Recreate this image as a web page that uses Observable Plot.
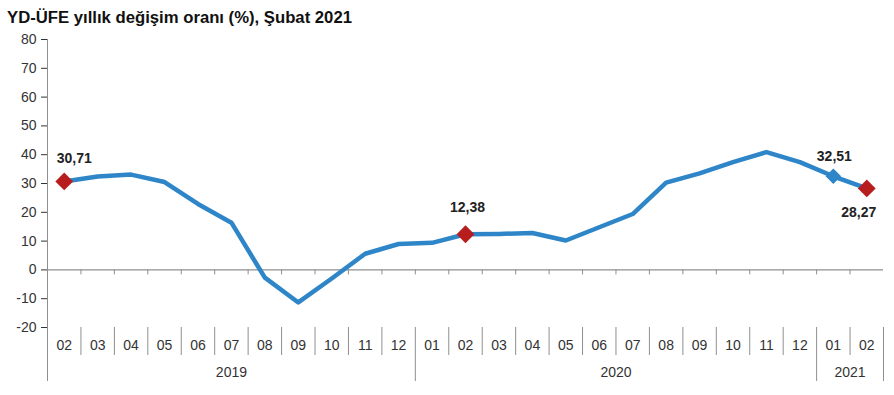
<!DOCTYPE html>
<html>
<head>
<meta charset="utf-8">
<script src="https://cdn.jsdelivr.net/npm/d3@7"></script>
<script src="https://cdn.jsdelivr.net/npm/@observablehq/plot@0.6"></script>
<style>
  html, body { margin: 0; padding: 0; background: #fff; }
  #title { height: 30px; box-sizing: border-box; padding: 9px 0 0 7px; font: bold 16.7px "Liberation Sans", Arial, sans-serif; color: #111; line-height: 18px; white-space: nowrap; }
  #chart svg { display: block; }
</style>
</head>
<body>
<div id="title">YD-ÜFE yıllık değişim oranı (%), Şubat 2021</div>
<div id="chart"></div>
<script>
const months = ["02","03","04","05","06","07","08","09","10","11","12",
                "01","02","03","04","05","06","07","08","09","10","11","12",
                "01","02"];
const years = ["2019","2019","2019","2019","2019","2019","2019","2019","2019","2019","2019",
               "2020","2020","2020","2020","2020","2020","2020","2020","2020","2020","2020","2020",
               "2021","2021"];
const values = [30.71, 32.4, 33.1, 30.5, 22.9, 16.4, -2.7, -11.3, -3.0, 5.6, 9.0,
                9.4, 12.38, 12.5, 12.8, 10.2, 14.8, 19.4, 30.3, 33.5, 37.4, 40.9, 37.4,
                32.51, 28.27];
const yTicks = [-20, -10, 0, 10, 20, 30, 40, 50, 60, 70, 80];

const markerPeriods = ["2019-02", "2020-02", "2021-01", "2021-02"];
const markerLabels = ["30,71", "12,38", "32,51", "28,27"];
const markerKinds = ["red", "red", "blue", "red"];

const BLUE = "#2E86C9", RED = "#B81D1D", AXIS = "#8f8f8f", TEXT = "#333";

const data = values.map((v, i) => ({i, month: months[i], year: years[i], period: years[i] + "-" + months[i], value: v}));
const markers = markerPeriods.map((p, k) => {
  const d = data.find(e => e.period === p);
  return {...d, label: markerLabels[k], kind: markerKinds[k]};
});
const labelOffsets = {"2019-02": [10, -23], "2020-02": [2, -27], "2021-01": [1, -20], "2021-02": [-8, 24]};

// boundaries between categories
const boundaries = data.slice(1).map(d => ({x: d.i - 0.5, yearBreak: d.year !== data[d.i - 1].year}));
const monthBounds = boundaries.filter(b => !b.yearBreak);
const yearBounds = [{x: -0.5}, ...boundaries.filter(b => b.yearBreak), {x: data.length - 0.5}];
const yearCenters = d3.rollups(data, v => d3.mean(v, d => d.i), d => d.year).map(([year, c]) => ({year, c}));

const chart = Plot.plot({
  width: 894,
  height: 365,
  marginLeft: 47,
  marginRight: 11,
  marginTop: 9,
  marginBottom: 68,
  style: {fontFamily: "'Liberation Sans', Arial, sans-serif", fontSize: "14px", color: TEXT, background: "#fff"},
  x: {domain: [-0.5, data.length - 0.5], axis: null},
  y: {domain: [-20, 80], ticks: yTicks, tickSize: 6, tickPadding: 5, tickFormat: d => String(d), label: null},
  marks: [
    // zero line
    Plot.ruleY([0], {stroke: AXIS, strokeWidth: 1.2}),
    // small ticks below zero line
    Plot.ruleX(boundaries, {x: "x", y1: 0, y2: 0, insetBottom: -5, stroke: AXIS}),
    // month separators in the label area
    Plot.ruleX(monthBounds, {x: "x", insetTop: 288, insetBottom: -28, stroke: AXIS}),
    // year separators (and left axis line)
    Plot.ruleX(yearBounds, {x: "x", insetBottom: -54, insetTop: 288, stroke: AXIS}),
    Plot.ruleX([-0.5], {stroke: AXIS, insetBottom: -54}),
    // month labels
    Plot.text(data, {x: "i", y: () => -20, text: "month", dy: 18, fill: TEXT}),
    // year labels
    Plot.text(yearCenters, {x: "c", y: () => -20, text: "year", dy: 45, fill: TEXT}),
    // series line
    Plot.line(data, {x: "i", y: "value", stroke: BLUE, strokeWidth: 4.5, strokeLinejoin: "round", strokeLinecap: "round"}),
    // markers
    Plot.dot(markers.filter(d => d.kind === "red"), {x: "i", y: "value", symbol: "diamond2", r: 8, fill: RED, stroke: "none"}),
    Plot.dot(markers.filter(d => d.kind === "blue"), {x: "i", y: "value", symbol: "diamond2", r: 7, fill: BLUE, stroke: "none"}),
    // value labels
    ...markers.map(d => Plot.text([d], {x: "i", y: "value", text: "label",
      dx: labelOffsets[d.period][0], dy: labelOffsets[d.period][1],
      fontWeight: "bold", fontSize: 14, fill: "#222"}))
  ]
});
document.getElementById("chart").appendChild(chart);
</script>
</body>
</html>
